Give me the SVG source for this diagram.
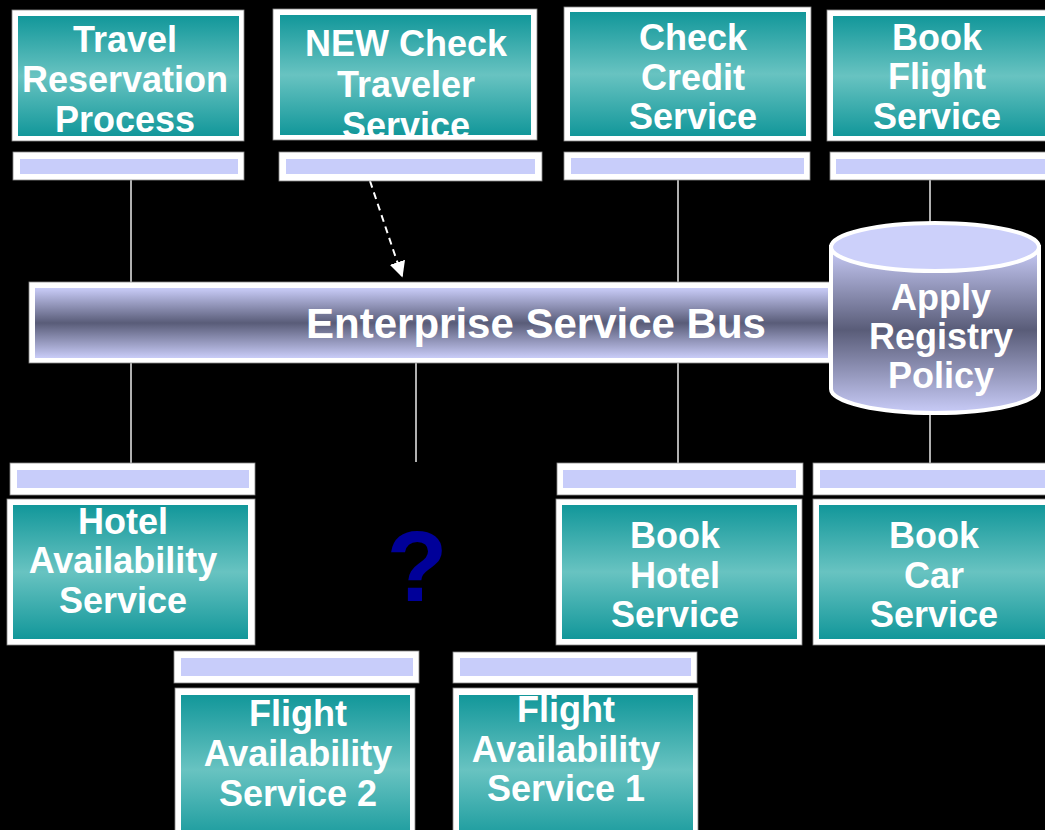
<svg xmlns="http://www.w3.org/2000/svg" width="1045" height="830" viewBox="0 0 1045 830">
<defs>
<linearGradient id="teal" x1="0" y1="0" x2="0" y2="1">
<stop offset="0" stop-color="#12979a"/>
<stop offset="0.5" stop-color="#68c3c1"/>
<stop offset="1" stop-color="#12979a"/>
</linearGradient>
<linearGradient id="slate" x1="0" y1="0" x2="0" y2="1">
<stop offset="0" stop-color="#c9ccf8"/>
<stop offset="0.5" stop-color="#595c78"/>
<stop offset="1" stop-color="#c9ccf8"/>
</linearGradient>
<marker id="arr" viewBox="0 0 10 10" refX="9" refY="5" markerWidth="8" markerHeight="8" orient="auto" markerUnits="strokeWidth">
<path d="M0,0 L10,5 L0,10 Z" fill="#ffffff"/>
</marker>
<clipPath id="cNew"><rect x="280" y="15" width="251" height="120"/></clipPath>
<clipPath id="cF1"><rect x="459" y="695" width="234" height="150"/></clipPath>
</defs>
<style>
.frame{fill:#ffffff;stroke:#888888;stroke-width:0.8}
.box{fill:url(#teal)}
.bar{fill:#c8cdfa}
.lbl{font-family:"Liberation Sans",Arial,sans-serif;font-weight:bold;font-size:36px;fill:#ffffff;text-anchor:middle}
.conn{stroke:#dddddd;stroke-width:1.6;fill:none}
</style>
<rect x="0" y="0" width="1045" height="830" fill="#000000"/>

<g id="connectors">
<line class="conn" x1="131" y1="180" x2="131" y2="282"/>
<line class="conn" x1="678" y1="180" x2="678" y2="282"/>
<line class="conn" x1="930" y1="180" x2="930" y2="224"/>
<line class="conn" x1="131" y1="363" x2="131" y2="463"/>
<line class="conn" x1="416" y1="363" x2="416" y2="462"/>
<line class="conn" x1="678" y1="363" x2="678" y2="463"/>
<line class="conn" x1="930" y1="412" x2="930" y2="463"/>
<line x1="370" y1="181" x2="402" y2="276" stroke="#ffffff" stroke-width="2" stroke-dasharray="7,5" marker-end="url(#arr)"/>
</g>

<g id="travel">
<rect class="frame" x="12" y="10" width="232" height="131"/>
<rect class="box" x="18" y="16" width="221" height="120"/>
<rect class="frame" x="13" y="152" width="231" height="28"/>
<rect class="bar" x="20" y="159" width="218" height="15"/>
<text class="lbl" x="125" y="52">Travel</text>
<text class="lbl" x="125" y="92">Reservation</text>
<text class="lbl" x="125" y="132">Process</text>
</g>

<g id="newcheck">
<rect class="frame" x="273" y="9" width="264" height="131"/>
<rect class="box" x="280" y="15" width="251" height="120"/>
<rect class="frame" x="279" y="152" width="263" height="29"/>
<rect class="bar" x="286" y="159" width="249" height="15"/>
<g clip-path="url(#cNew)">
<text class="lbl" x="406" y="56">NEW Check</text>
<text class="lbl" x="406" y="97">Traveler</text>
<text class="lbl" x="406" y="138">Service</text>
</g>
</g>

<g id="credit">
<rect class="frame" x="564" y="7" width="247" height="134"/>
<rect class="box" x="570" y="12" width="236" height="124"/>
<rect class="frame" x="564" y="152" width="246" height="28"/>
<rect class="bar" x="571" y="158" width="233" height="16"/>
<text class="lbl" x="693" y="50">Check</text>
<text class="lbl" x="693" y="90">Credit</text>
<text class="lbl" x="693" y="129">Service</text>
</g>

<g id="bookflight">
<rect class="frame" x="827" y="10" width="230" height="131"/>
<rect class="box" x="833" y="16" width="220" height="120"/>
<rect class="frame" x="830" y="152" width="230" height="28"/>
<rect class="bar" x="836" y="159" width="220" height="15"/>
<text class="lbl" x="937" y="50">Book</text>
<text class="lbl" x="937" y="89">Flight</text>
<text class="lbl" x="937" y="129">Service</text>
</g>

<g id="bus">
<rect class="frame" x="29" y="282" width="802" height="81"/>
<rect x="35" y="288" width="793" height="70" fill="url(#slate)"/>
<text class="lbl" x="536" y="338" style="font-size:42px">Enterprise Service Bus</text>
</g>

<g id="registry">
<path d="M831,247 L831,389 A104,24 0 0 0 1039,389 L1039,247 Z" fill="url(#slate)" stroke="#ffffff" stroke-width="4"/>
<ellipse cx="935" cy="247" rx="104" ry="24" fill="#ccd0fa" stroke="#ffffff" stroke-width="4"/>
<text class="lbl" x="941" y="310">Apply</text>
<text class="lbl" x="941" y="349">Registry</text>
<text class="lbl" x="941" y="388">Policy</text>
</g>

<g id="hotelavail">
<rect class="frame" x="10" y="463" width="245" height="32"/>
<rect class="bar" x="17" y="470" width="232" height="18"/>
<rect class="frame" x="7" y="499" width="248" height="146"/>
<rect class="box" x="13" y="505" width="235" height="134"/>
<text class="lbl" x="123" y="534">Hotel</text>
<text class="lbl" x="123" y="573">Availability</text>
<text class="lbl" x="123" y="613">Service</text>
</g>

<g id="unknown">
<text x="417" y="601" font-family="Liberation Sans, Arial, sans-serif" font-weight="bold" font-size="100" fill="#000099" text-anchor="middle">?</text>
</g>

<g id="bookhotel">
<rect class="frame" x="557" y="463" width="246" height="32"/>
<rect class="bar" x="563" y="470" width="233" height="18"/>
<rect class="frame" x="556" y="499" width="246" height="146"/>
<rect class="box" x="562" y="505" width="235" height="134"/>
<text class="lbl" x="675" y="548">Book</text>
<text class="lbl" x="675" y="588">Hotel</text>
<text class="lbl" x="675" y="627">Service</text>
</g>

<g id="bookcar">
<rect class="frame" x="813" y="463" width="250" height="32"/>
<rect class="bar" x="820" y="470" width="240" height="18"/>
<rect class="frame" x="813" y="499" width="250" height="146"/>
<rect class="box" x="819" y="505" width="240" height="134"/>
<text class="lbl" x="934" y="548">Book</text>
<text class="lbl" x="934" y="588">Car</text>
<text class="lbl" x="934" y="627">Service</text>
</g>

<g id="flightavail2">
<rect class="frame" x="174" y="651" width="245" height="32"/>
<rect class="bar" x="181" y="658" width="232" height="18"/>
<rect class="frame" x="175" y="688" width="240" height="160"/>
<rect class="box" x="181" y="695" width="229" height="150"/>
<text class="lbl" x="298" y="726">Flight</text>
<text class="lbl" x="298" y="766">Availability</text>
<text class="lbl" x="298" y="806">Service 2</text>
</g>

<g id="flightavail1">
<rect class="frame" x="453" y="652" width="244" height="31"/>
<rect class="bar" x="460" y="658" width="231" height="18"/>
<rect class="frame" x="453" y="688" width="245" height="160"/>
<rect class="box" x="459" y="695" width="234" height="150"/>
<g clip-path="url(#cF1)">
<text class="lbl" x="566" y="722">Flight</text>
<text class="lbl" x="566" y="762">Availability</text>
<text class="lbl" x="566" y="801">Service 1</text>
</g>
</g>
</svg>
